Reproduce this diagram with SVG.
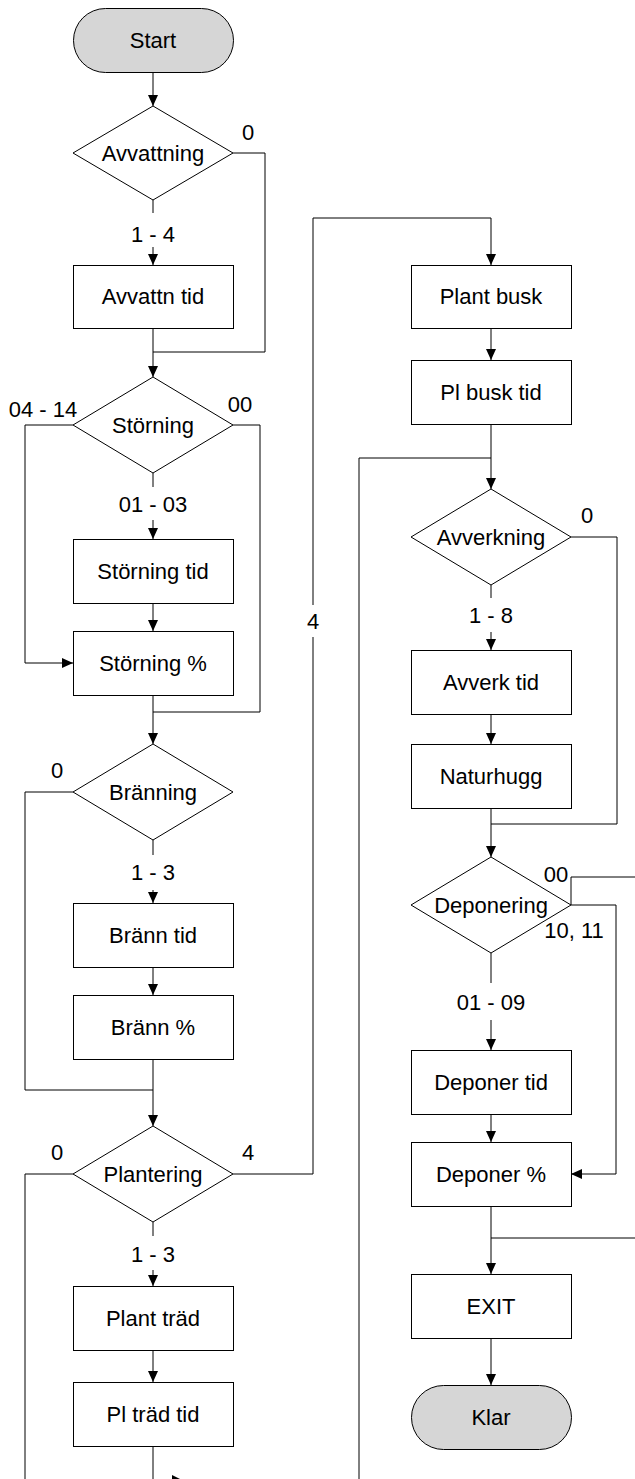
<svg xmlns="http://www.w3.org/2000/svg" width="635" height="1479" viewBox="0 0 635 1479">
  <style>
    text { font-family: "Liberation Sans", Arial, sans-serif; font-size: 22px; fill: #000; text-anchor: middle; }
    .box { fill: #fff; stroke: #000; stroke-width: 1; }
    .term { fill: #d6d6d6; stroke: #000; stroke-width: 1; }
    .dec { fill: #fff; stroke: #000; stroke-width: 1; }
    .line { fill: none; stroke: #000; stroke-width: 1; }
    .arr { fill: none; stroke: #000; stroke-width: 1; marker-end: url(#head); }
  </style>
  <defs>
    <marker id="head" viewBox="0 0 11 10" refX="11" refY="5" markerWidth="11" markerHeight="10" markerUnits="userSpaceOnUse" orient="auto">
      <path d="M0,0 L11,5 L0,10 z" fill="#000"/>
    </marker>
  </defs>

  <rect width="635" height="1479" fill="#fff"/>

  <!-- connectors -->
  <g id="connectors">
    <!-- left column -->
    <path class="arr" d="M153,72 V106"/>
    <path class="line" d="M153,200 V213"/>
    <path class="arr" d="M153,247 V265"/>
    <path class="line" d="M233,153 H265 V352 H153"/>
    <path class="arr" d="M153,328 V377"/>
    <path class="arr" d="M73,425 H25 V663 H73"/>
    <path class="line" d="M233,425 H260 V712 H153"/>
    <path class="line" d="M153,473 V487"/>
    <path class="arr" d="M153,520 V539"/>
    <path class="arr" d="M153,603 V631"/>
    <path class="arr" d="M153,695 V744"/>
    <path class="line" d="M73,792 H25 V1090 H153"/>
    <path class="line" d="M153,840 V855"/>
    <path class="arr" d="M153,890 V903"/>
    <path class="arr" d="M153,967 V995"/>
    <path class="arr" d="M153,1059 V1126"/>
    <path class="line" d="M73,1174 H25 V1479"/>
    <path class="line" d="M233,1174 H313 V637"/>
    <path class="arr" d="M313,605 V218 H491 V265"/>
    <path class="line" d="M153,1222 V1236"/>
    <path class="arr" d="M153,1270 V1286"/>
    <path class="arr" d="M153,1350 V1382"/>
    <path class="line" d="M153,1446 V1479"/>
    <polygon points="172,1475 184,1481 172,1487" fill="#000"/>

    <!-- right column -->
    <path class="arr" d="M491,328 V360"/>
    <path class="arr" d="M491,424 V489"/>
    <path class="line" d="M359,1479 V458 H491"/>
    <path class="line" d="M571,537 H617 V824 H491"/>
    <path class="line" d="M491,585 V598"/>
    <path class="arr" d="M491,632 V650"/>
    <path class="arr" d="M491,714 V744"/>
    <path class="arr" d="M491,808 V857"/>
    <path class="line" d="M571,905 V877 H635"/>
    <path class="arr" d="M571,905 H616 V1174 H571"/>
    <path class="line" d="M491,953 V983"/>
    <path class="arr" d="M491,1020 V1050"/>
    <path class="arr" d="M491,1114 V1142"/>
    <path class="arr" d="M491,1206 V1274"/>
    <path class="line" d="M635,1238 H491"/>
    <path class="arr" d="M491,1338 V1385"/>

    <!-- branch labels -->
    <text x="248" y="140">0</text>
    <text x="153" y="242">1 - 4</text>
    <text x="43" y="417">04 - 14</text>
    <text x="240" y="412">00</text>
    <text x="153" y="512">01 - 03</text>
    <text x="57" y="778">0</text>
    <text x="153" y="880">1 - 3</text>
    <text x="57" y="1160">0</text>
    <text x="248" y="1160">4</text>
    <text x="313" y="629">4</text>
    <text x="153" y="1262">1 - 3</text>
    <text x="587" y="523">0</text>
    <text x="491" y="623">1 - 8</text>
    <text x="556" y="882">00</text>
    <text x="574" y="938">10, 11</text>
    <text x="491" y="1010">01 - 09</text>
  </g>

  <!-- left column nodes -->
  <g id="start">
    <rect class="term" x="73.5" y="8.5" width="160" height="64" rx="32"/>
    <text x="153" y="48">Start</text>
  </g>
  <g id="avvattning">
    <polygon class="dec" points="73,153 153,106 233,153 153,200"/>
    <text x="153" y="161">Avvattning</text>
  </g>
  <g id="avvattn-tid">
    <rect class="box" x="73.5" y="265.5" width="160" height="63"/>
    <text x="153" y="304">Avvattn tid</text>
  </g>
  <g id="storning">
    <polygon class="dec" points="73,425 153,377 233,425 153,473"/>
    <text x="153" y="433">Störning</text>
  </g>
  <g id="storning-tid">
    <rect class="box" x="73.5" y="539.5" width="160" height="64"/>
    <text x="153" y="579">Störning tid</text>
  </g>
  <g id="storning-pct">
    <rect class="box" x="73.5" y="631.5" width="160" height="64"/>
    <text x="153" y="671">Störning %</text>
  </g>
  <g id="branning">
    <polygon class="dec" points="73,792 153,744 233,792 153,840"/>
    <text x="153" y="800">Bränning</text>
  </g>
  <g id="brann-tid">
    <rect class="box" x="73.5" y="903.5" width="160" height="64"/>
    <text x="153" y="943">Bränn tid</text>
  </g>
  <g id="brann-pct">
    <rect class="box" x="73.5" y="995.5" width="160" height="64"/>
    <text x="153" y="1035">Bränn %</text>
  </g>
  <g id="plantering">
    <polygon class="dec" points="73,1174 153,1126 233,1174 153,1222"/>
    <text x="153" y="1182">Plantering</text>
  </g>
  <g id="plant-trad">
    <rect class="box" x="73.5" y="1286.5" width="160" height="64"/>
    <text x="153" y="1326">Plant träd</text>
  </g>
  <g id="pl-trad-tid">
    <rect class="box" x="73.5" y="1382.5" width="160" height="64"/>
    <text x="153" y="1422">Pl träd tid</text>
  </g>

  <!-- right column nodes -->
  <g id="plant-busk">
    <rect class="box" x="411.5" y="265.5" width="160" height="63"/>
    <text x="491" y="304">Plant busk</text>
  </g>
  <g id="pl-busk-tid">
    <rect class="box" x="411.5" y="360.5" width="160" height="64"/>
    <text x="491" y="400">Pl busk tid</text>
  </g>
  <g id="avverkning">
    <polygon class="dec" points="411,537 491,489 571,537 491,585"/>
    <text x="491" y="545">Avverkning</text>
  </g>
  <g id="avverk-tid">
    <rect class="box" x="411.5" y="650.5" width="160" height="64"/>
    <text x="491" y="690">Avverk tid</text>
  </g>
  <g id="naturhugg">
    <rect class="box" x="411.5" y="744.5" width="160" height="64"/>
    <text x="491" y="784">Naturhugg</text>
  </g>
  <g id="deponering">
    <polygon class="dec" points="411,905 491,857 571,905 491,953"/>
    <text x="491" y="913">Deponering</text>
  </g>
  <g id="deponer-tid">
    <rect class="box" x="411.5" y="1050.5" width="160" height="64"/>
    <text x="491" y="1090">Deponer tid</text>
  </g>
  <g id="deponer-pct">
    <rect class="box" x="411.5" y="1142.5" width="160" height="64"/>
    <text x="491" y="1182">Deponer %</text>
  </g>
  <g id="exit">
    <rect class="box" x="411.5" y="1274.5" width="160" height="64"/>
    <text x="491" y="1314">EXIT</text>
  </g>
  <g id="klar">
    <rect class="term" x="411.5" y="1385.5" width="160" height="64" rx="32"/>
    <text x="491" y="1425">Klar</text>
  </g>
</svg>
